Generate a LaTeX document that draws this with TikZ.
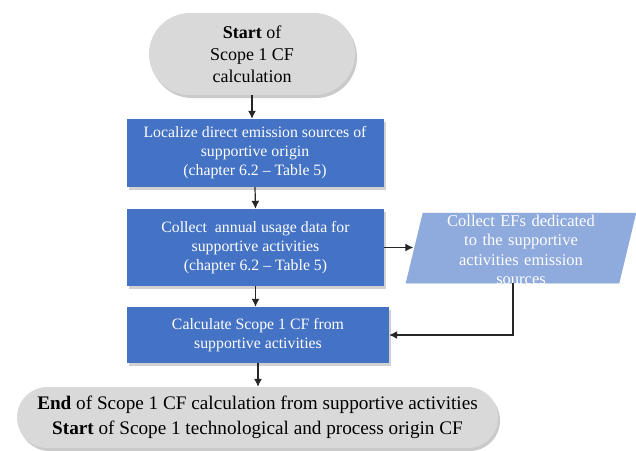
\documentclass[tikz,border=0pt]{standalone}
\usepackage{fontspec}
\setmainfont{Liberation Serif}
\usetikzlibrary{shapes.misc,shadows,calc,backgrounds,arrows.meta}

\definecolor{stepblue}{HTML}{4472C4}
\definecolor{inputblue}{HTML}{8FAADC}
\definecolor{termgray}{HTML}{D9D9D9}

\tikzset{
  terminal/.style={rounded rectangle, fill=termgray, align=center, inner sep=2pt,
    text=black,
    drop shadow={shadow xshift=2pt, shadow yshift=-3pt, opacity=0.35, fill=black!60}},
  stepbox/.style={rectangle, fill=stepblue, align=center, text=white, inner sep=2pt,
    font=\fontsize{15.8}{19}\selectfont,
    drop shadow={shadow xshift=2pt, shadow yshift=-3pt, opacity=0.3, fill=black!60}},
  inputtext/.style={rectangle, align=center, text=white, inner sep=0pt,
    font=\fontsize{16.5}{19.5}\selectfont},
  flow/.style={draw=black!85, line width=1.2pt, -{Latex[length=8pt,width=8pt]}}
}

\begin{document}
\begin{tikzpicture}[x=1pt, y=-1pt]
  \useasboundingbox (0,0) rectangle (636,450);

  % process nodes
  \node[terminal, minimum width=210pt, minimum height=82pt,
        font=\fontsize{18}{22}\selectfont] (start) at (252,54)
    {\textbf{Start} of\\Scope 1 CF\\calculation};
  \node[stepbox, minimum width=257pt, minimum height=68pt] (locate) at (255,153)
    {Localize direct emission sources of\\supportive origin\\(chapter 6.2 -- Table 5)};
  \node[stepbox, minimum width=257pt, minimum height=77pt] (usage) at (255.5,247.5)
    {Collect\ \ annual usage data for\\supportive activities\\(chapter 6.2 -- Table 5)};
  \node[stepbox, minimum width=262pt, minimum height=56pt] (calc) at (258,335)
    {Calculate Scope 1 CF from\\supportive activities};
  \node[terminal, minimum width=485pt, minimum height=61pt,
        font=\fontsize{19.2}{23}\selectfont] (finish) at (257.5,417.5)
    {\textbf{End} of Scope 1 CF calculation from supportive activities\\[2pt]
     \textbf{Start} of Scope 1 technological and process origin CF};

  % data input (parallelogram)
  \node[inputtext, minimum width=213pt, minimum height=70pt, text width=210pt] (efs) at (521,250)
    {Collect EFs dedicated\\to the supportive\\activities emission\\sources};
  \begin{scope}[on background layer]
    \fill[black!60, opacity=0.3, shift={(2pt,-3pt)}]
      ($(efs.north west)+(8.5,-2)$) -- ($(efs.north east)+(8.5,-2)$)
      -- ($(efs.south east)+(-8.5,-2)$) -- ($(efs.south west)+(-8.5,-2)$) -- cycle;
    \fill[inputblue]
      ($(efs.north west)+(8.5,-2)$) -- ($(efs.north east)+(8.5,-2)$)
      -- ($(efs.south east)+(-8.5,-2)$) -- ($(efs.south west)+(-8.5,-2)$) -- cycle;
  \end{scope}
  \coordinate (efsout) at ($(efs.south)+(-8,-2)$);
  \coordinate (efsin) at ($(efs.west |- usage.east)+(-1,0)$);

  % connectors
  \draw[flow] (start.south) -- (start.south |- locate.north);
  \draw[flow] (locate.south) -- (usage.north);
  \draw[flow] (usage.south) -- (usage.south |- calc.north);
  \draw[flow] (calc.south) -- (calc.south |- finish.north);
  \draw[flow] (usage.east) -- (efsin);
  \draw[flow] (efsout) |- (calc.east);
\end{tikzpicture}
\end{document}
